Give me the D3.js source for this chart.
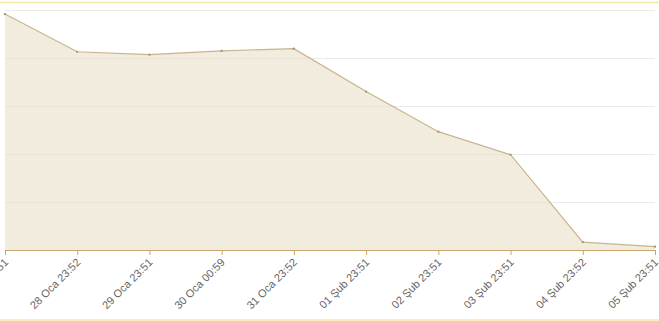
<!DOCTYPE html>
<meta charset="utf-8">
<script src="https://cdn.jsdelivr.net/npm/d3@7"></script>
<style>
  body { margin: 0; background: #fff; }
  svg { display: block; font-family: "Liberation Sans", Arial, sans-serif; }
</style>
<svg id="graph" width="659" height="321"></svg>
<script>

// dates shown on the x axis
var labels = ["27 Oca 23:51", "28 Oca 23:52", "29 Oca 23:51", "30 Oca 00:59", "31 Oca 23:52",
              "01 Şub 23:51", "02 Şub 23:51", "03 Şub 23:51", "04 Şub 23:52", "05 Şub 23:51"];
// values (no y labels, so scaled 0-100)
var values = [98.3, 82.6, 81.4, 83.0, 83.9, 66.0, 49.3, 39.7, 3.3, 1.4];
var yTicks = [0, 20, 40, 60, 80, 100];

var svg = d3.select("#graph"),
    margin = {top: 10, right: 4, bottom: 71, left: 5},
    width = +svg.attr("width") - margin.left - margin.right,
    height = +svg.attr("height") - margin.top - margin.bottom;

// frame lines top and bottom
svg.append("line").attr("x1", 0).attr("x2", 659).attr("y1", 2.5).attr("y2", 2.5)
    .style("stroke", "#f7e7a6").style("stroke-width", 1.5);
svg.append("line").attr("x1", 0).attr("x2", 659).attr("y1", 320).attr("y2", 320)
    .style("stroke", "#f7e7a6").style("stroke-width", 1.5);

var g = svg.append("g")
    .attr("transform", "translate(" + margin.left + "," + margin.top + ")");

var x = d3.scalePoint().domain(labels).range([0, width]),
    y = d3.scaleLinear().domain([0, 100]).range([height, 0]);

// grid
g.append("g")
    .selectAll("line")
    .data(yTicks.slice(1))
    .enter().append("line")
      .attr("x1", 0)
      .attr("x2", width)
      .attr("y1", function(d) { return y(d) + 0.5; })
      .attr("y2", function(d) { return y(d) + 0.5; })
      .style("stroke", "#ebebeb");

var area = d3.area()
    .x(function(d, i) { return x(labels[i]); })
    .y0(height)
    .y1(function(d) { return y(d); });

var line = d3.line()
    .x(function(d, i) { return x(labels[i]); })
    .y(function(d) { return y(d); });

g.append("path")
    .attr("d", area(values))
    .style("fill", "#e7dcc5")
    .style("fill-opacity", 0.55);

g.append("path")
    .attr("d", line(values))
    .style("fill", "none")
    .style("stroke", "#c8b48c")
    .style("stroke-width", 1.2);

g.selectAll(".pt")
    .data(values)
    .enter().append("rect")
      .attr("class", "pt")
      .attr("x", function(d, i) { return x(labels[i]) - 1; })
      .attr("y", function(d) { return y(d) - 1; })
      .attr("width", 2)
      .attr("height", 2)
      .style("fill", "#a8966c");

// x axis
var xAxis = g.append("g")
    .attr("transform", "translate(0," + height + ")")
    .call(d3.axisBottom(x).tickSize(5));

xAxis.select(".domain").style("stroke", "#c9a66b");
xAxis.selectAll(".tick line").style("stroke", "#c9a66b");
xAxis.selectAll(".tick text")
    .style("font-size", "11px")
    .style("fill", "#666")
    .attr("text-anchor", "end")
    .attr("y", 0)
    .attr("dy", 0)
    .attr("transform", "translate(3.5,13) rotate(-45)");

</script>
